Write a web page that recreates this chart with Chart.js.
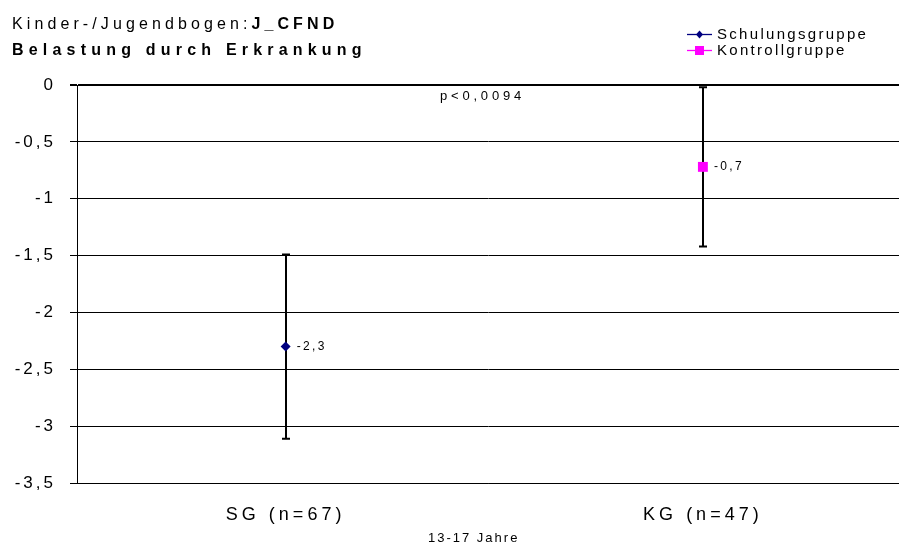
<!DOCTYPE html>
<html lang="de">
<head>
<meta charset="UTF-8">
<title>Belastung durch Erkrankung</title>
<script src="https://cdn.jsdelivr.net/npm/chart.js"></script>
<style>
    body { margin: 0; background: #fff; font-family: "Liberation Sans", Arial, sans-serif; color: #000; }
    #wrap { position: relative; width: 899px; height: 547px; overflow: hidden; }
    #chart { position: absolute; left: 0; top: 0; }
    .txt { position: absolute; white-space: nowrap; }
    #title { left: 12px; top: 11px; font-size: 16px; line-height: 26px; }
    #title .l1 { letter-spacing: 4.1px; }
    #title .l2 { letter-spacing: 5.2px; font-weight: bold; }
    #legend { left: 687px; top: 26px; font-size: 15px; letter-spacing: 2.3px; line-height: 16px; }
    #legend div { display: flex; align-items: center; }
    #legend svg { margin-right: 5px; }
    #ptext { left: 440px; top: 88px; font-size: 13px; letter-spacing: 3.8px; }
    #xtitle { left: 428px; top: 530px; font-size: 13px; letter-spacing: 2px; }
</style>
</head>
<body>
<div id="wrap">
    <canvas id="chart" width="899" height="547"></canvas>
    <div id="title" class="txt"><span class="l1">Kinder-/Jugendbogen:<b>J_CFND</b></span><br><span class="l2">Belastung durch Erkrankung</span></div>
    <div id="legend" class="txt"></div>
    <div id="ptext" class="txt">p&lt;0,0094</div>
    <div id="xtitle" class="txt">13-17 Jahre</div>
</div>

<script>
    // data
    const categories = ['SG (n=67)', 'KG (n=47)'];
    const seriesNames = ['Schulungsgruppe', 'Kontrollgruppe'];
    const means = [-2.30, -0.72];
    const sds = [0.81, 0.70];
    const seriesColors = ['#000080', '#FF00FF'];
    const pointShapes = ['rectRot', 'rect'];
    const pointSizes = [5, 7];

    // legend (html)
    const legendEl = document.getElementById('legend');
    seriesNames.forEach((name, i) => {
        const mark = pointShapes[i] === 'rect'
            ? '<rect x="8" y="3" width="9" height="9" fill="' + seriesColors[i] + '"/>'
            : '<polygon points="12.5,3.5 16,7.5 12.5,11.5 9,7.5" fill="' + seriesColors[i] + '"/>';
        legendEl.innerHTML += '<div><svg width="25" height="15"><line x1="0" y1="7.5" x2="25" y2="7.5" stroke="' +
            seriesColors[i] + '" stroke-width="1.3"/>' + mark + '</svg>' + name + '</div>';
    });

    const fmt = v => String(Math.round(v * 10) / 10).replace('.', ',');

    // letter spacing for canvas text (ticks)
    const spacing = {
        id: 'spacing',
        beforeLayout(chart) { chart.ctx.letterSpacing = '3px'; },
        beforeDraw(chart) { chart.ctx.letterSpacing = '3px'; }
    };

    // error bars under the markers, value labels on top
    const errorBars = {
        id: 'errorBars',
        beforeDatasetsDraw(chart) {
            const { ctx, scales: { x, y } } = chart;
            ctx.save();
            ctx.strokeStyle = '#000';
            ctx.lineWidth = 2;
            means.forEach((m, i) => {
                const px = Math.round(x.getPixelForValue(i));
                const top = y.getPixelForValue(m + sds[i]);
                const bot = y.getPixelForValue(m - sds[i]);
                ctx.beginPath();
                ctx.moveTo(px, top); ctx.lineTo(px, bot);
                ctx.moveTo(px - 4, top); ctx.lineTo(px + 4, top);
                ctx.moveTo(px - 4, bot); ctx.lineTo(px + 4, bot);
                ctx.stroke();
            });
            ctx.restore();
        },
        afterDatasetsDraw(chart) {
            const { ctx, scales: { x, y } } = chart;
            ctx.save();
            ctx.letterSpacing = '2.4px';
            ctx.font = '12px "Liberation Sans", Arial, sans-serif';
            ctx.fillStyle = '#000';
            ctx.textBaseline = 'middle';
            means.forEach((m, i) => {
                ctx.fillText(fmt(m), x.getPixelForValue(i) + 11, y.getPixelForValue(m));
            });
            ctx.restore();
        }
    };

    new Chart(document.getElementById('chart'), {
        type: 'scatter',
        data: {
            datasets: seriesNames.map((name, i) => ({
                label: name,
                data: [{ x: i, y: means[i] }],
                pointStyle: pointShapes[i],
                pointRadius: pointSizes[i],
                pointHoverRadius: pointSizes[i],
                backgroundColor: seriesColors[i],
                borderColor: seriesColors[i],
                borderWidth: 0
            }))
        },
        options: {
            responsive: false,
            animation: false,
            layout: { autoPadding: false, padding: { top: 85, right: 0, bottom: 0, left: 0 } },
            plugins: {
                legend: { display: false },
                title: { display: false },
                tooltip: { enabled: false }
            },
            scales: {
                x: {
                    type: 'linear',
                    min: -0.5,
                    max: 1.47,
                    afterBuildTicks: s => { s.ticks = categories.map((c, i) => ({ value: i })); },
                    afterFit: s => {
                        s.height = 64;
                        s.paddingLeft = 0;
                        s.paddingRight = 0;
                        if (!s._wide) {
                            // category labels are spaced a bit wider than the y labels
                            const draw = s.drawLabels.bind(s);
                            s.drawLabels = area => {
                                s.ctx.letterSpacing = '4px';
                                draw(area);
                                s.ctx.letterSpacing = '3px';
                            };
                            s._wide = true;
                        }
                    },
                    ticks: {
                        callback: v => categories[v],
                        color: '#000',
                        font: { family: '"Liberation Sans", Arial, sans-serif', size: 18 },
                        padding: 21,
                        maxRotation: 0,
                        autoSkip: false
                    },
                    grid: { display: false, drawTicks: false },
                    border: { display: true, color: '#000', width: 1 }
                },
                y: {
                    min: -3.5,
                    max: 0,
                    afterFit: s => { s.width = 77; },
                    ticks: {
                        stepSize: 0.5,
                        callback: v => fmt(v),
                        color: '#000',
                        font: { family: '"Liberation Sans", Arial, sans-serif', size: 17 },
                        padding: 14
                    },
                    grid: {
                        color: '#000',
                        lineWidth: c => (c.tick && c.tick.value === 0 ? 2 : 1),
                        tickLength: 7
                    },
                    border: { display: true, color: '#000', width: 1 }
                }
            }
        },
        plugins: [spacing, errorBars]
    });
</script>
</body>
</html>
